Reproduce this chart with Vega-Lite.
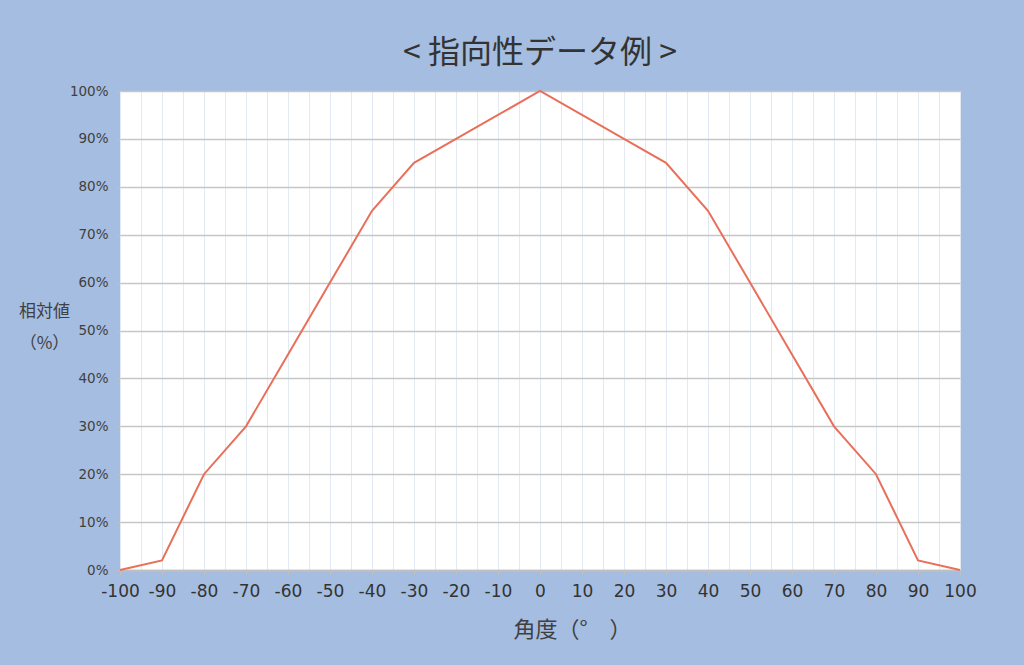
{
  "$schema": "https://vega.github.io/schema/vega-lite/v6.json",
  "width": 840,
  "height": 479,
  "autosize": "none",
  "padding": {"left": 120, "top": 91, "right": 64, "bottom": 95},
  "background": "#a5bde0",
  "title": {
    "text": "< 指向性データ例 >",
    "font": "Noto Sans CJK JP",
    "fontSize": 32,
    "fontWeight": "normal",
    "color": "#333333",
    "anchor": "middle",
    "offset": 14
  },
  "config": {
    "view": {"fill": "#ffffff", "stroke": null}
  },
  "data": {
    "values": [
      {"angle": -100, "value": 0},
      {"angle": -90, "value": 0.02},
      {"angle": -80, "value": 0.2},
      {"angle": -70, "value": 0.3},
      {"angle": -60, "value": 0.45},
      {"angle": -50, "value": 0.6},
      {"angle": -40, "value": 0.75},
      {"angle": -30, "value": 0.85},
      {"angle": -20, "value": 0.9},
      {"angle": -10, "value": 0.95},
      {"angle": 0, "value": 1.0},
      {"angle": 10, "value": 0.95},
      {"angle": 20, "value": 0.9},
      {"angle": 30, "value": 0.85},
      {"angle": 40, "value": 0.75},
      {"angle": 50, "value": 0.6},
      {"angle": 60, "value": 0.45},
      {"angle": 70, "value": 0.3},
      {"angle": 80, "value": 0.2},
      {"angle": 90, "value": 0.02},
      {"angle": 100, "value": 0}
    ]
  },
  "mark": {"type": "line", "color": "#e8705a", "strokeWidth": 2},
  "encoding": {
    "x": {
      "field": "angle",
      "type": "quantitative",
      "scale": {"domain": [-100, 100], "nice": false, "zero": false},
      "axis": {
        "title": "角度（°　）",
        "titleFont": "Noto Sans CJK JP",
        "titleFontSize": 22,
        "titleFontWeight": "normal",
        "titleColor": "#404040",
        "titleX": 452,
        "titleY": 59,
        "titleBaseline": "middle",
        "values": [-100, -95, -90, -85, -80, -75, -70, -65, -60, -55, -50, -45, -40, -35, -30, -25, -20, -15, -10, -5, 0, 5, 10, 15, 20, 25, 30, 35, 40, 45, 50, 55, 60, 65, 70, 75, 80, 85, 90, 95, 100],
        "labelExpr": "datum.value % 10 == 0 ? '' + datum.value : ''",
        "labelFont": "DejaVu Sans",
        "labelFontSize": 17,
        "labelColor": "#333333",
        "labelPadding": 8,
        "labelOverlap": false,
        "labelFlush": false,
        "domainColor": "#bfbfbf",
        "domainWidth": 1.5,
        "tickColor": "#bfbfbf",
        "tickSize": 5,
        "tickOpacity": {"expr": "datum.value % 10 == 0 ? 1 : 0"},
        "gridColor": "#e3e9f3",
        "gridWidth": 1
      }
    },
    "y": {
      "field": "value",
      "type": "quantitative",
      "scale": {"domain": [0, 1], "nice": false},
      "axis": {
        "title": ["相対値", "（%）"],
        "titleFont": "Noto Sans CJK JP",
        "titleFontSize": 17,
        "titleFontWeight": "normal",
        "titleColor": "#404040",
        "titleAngle": 0,
        "titleAlign": "center",
        "titleBaseline": "middle",
        "titleLineHeight": 32,
        "titleX": -76,
        "titleY": 220,
        "format": ".0%",
        "values": [0, 0.1, 0.2, 0.3, 0.4, 0.5, 0.6, 0.7, 0.8, 0.9, 1.0],
        "labelOverlap": false,
        "labelFont": "DejaVu Sans",
        "labelFontSize": 13.5,
        "labelColor": "#404040",
        "labelPadding": 8,
        "domain": false,
        "tickColor": "#bfbfbf",
        "tickSize": 4,
        "gridColor": "#c6c6c6",
        "gridWidth": 1.5
      }
    }
  }
}
